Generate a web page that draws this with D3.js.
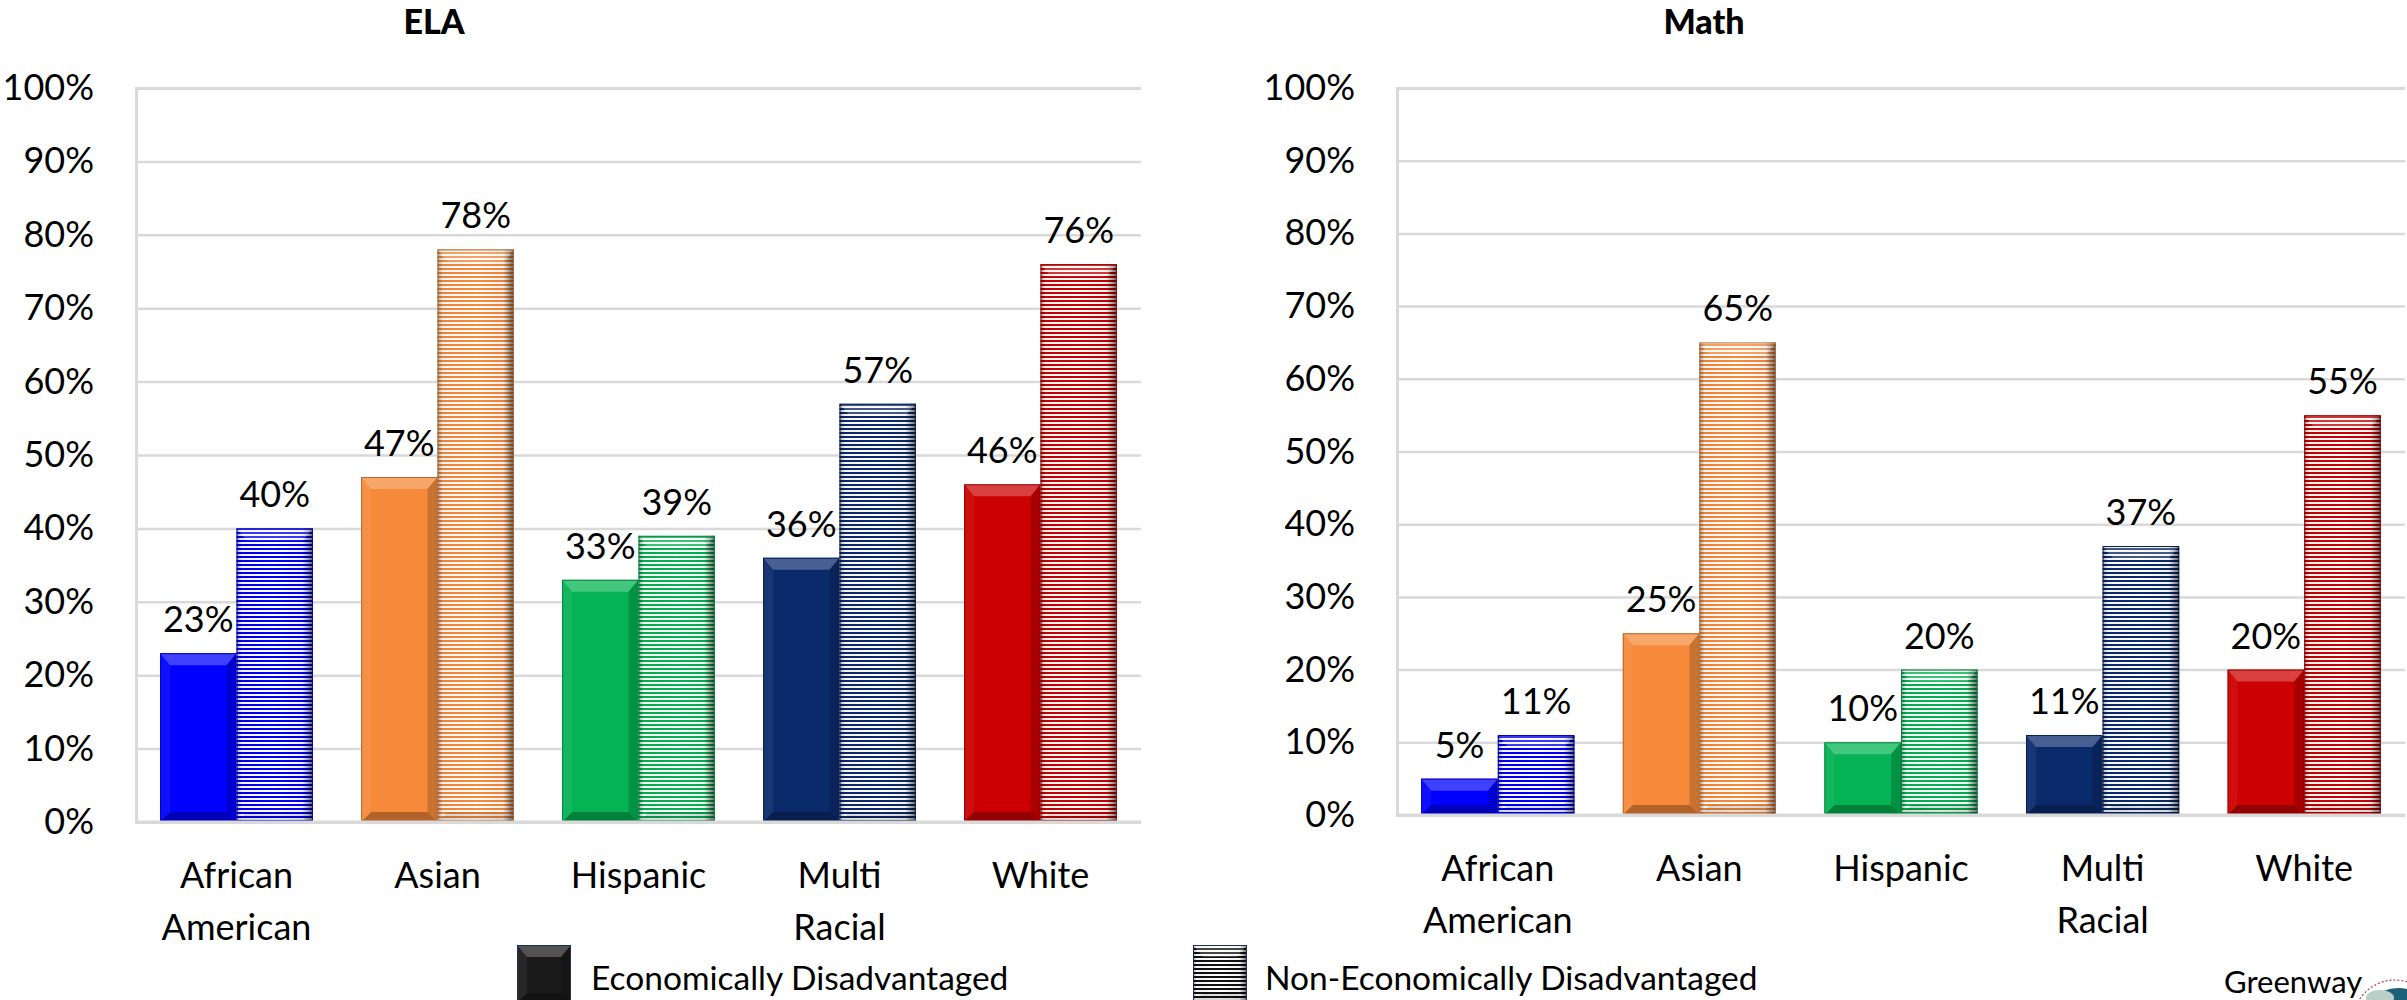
<!DOCTYPE html>
<html>
<head>
<meta charset="utf-8">
<script src="https://cdn.jsdelivr.net/npm/d3@7/dist/d3.min.js"></script>
<style>
  html, body { margin: 0; padding: 0; background: #fff; }
  svg { display: block; }
  text { font-family: Lato, "Open Sans", sans-serif; fill: #000; }
</style>
</head>
<body>
<svg id="chart" width="2407" height="1000"></svg>
<script>
// Proficiency rates by student group, ELA and Math
const categories = ["African American", "Asian", "Hispanic", "Multi Racial", "White"];
const categoryLines = [["African", "American"], ["Asian"], ["Hispanic"], ["Multi", "Racial"], ["White"]];
const seriesNames = ["Economically Disadvantaged", "Non-Economically Disadvantaged"];
const elaEcon = [23, 47, 33, 36, 46];
const elaNonEcon = [40, 78, 39, 57, 76];
const mathEcon = [5, 25, 10, 11, 20];
const mathNonEcon = [11, 65, 20, 37, 55];
const yTicks = [0, 10, 20, 30, 40, 50, 60, 70, 80, 90, 100];
const groupColors = ["#0000ff", "#f68a3a", "#04b353", "#0b2a6c", "#cc0000"];

const svg = d3.select("#chart");
const defs = svg.append("defs");

// Horizontal stripe patterns for the non-disadvantaged bars
groupColors.concat(["#111111"]).forEach((c, i) => {
  const p = defs.append("pattern")
    .attr("id", "stripe-" + i)
    .attr("patternUnits", "userSpaceOnUse")
    .attr("width", 8).attr("height", 4);
  p.append("rect").attr("width", 8).attr("height", 4).attr("fill", "#ffffff");
  p.append("rect").attr("y", 0).attr("width", 8).attr("height", 2).attr("fill", c);
});

// Edge shading for striped bars (rounded, pillar-like look)
const shade = defs.append("linearGradient").attr("id", "stripe-shade")
  .attr("x1", 0).attr("x2", 1).attr("y1", 0).attr("y2", 0);
[[0, 0.35], [0.07, 0.05], [0.5, 0], [0.86, 0.05], [1, 0.6]].forEach(([o, a]) => {
  shade.append("stop").attr("offset", o).attr("stop-color", "#000").attr("stop-opacity", a);
});

// Bevelled bar: base rect plus four facets
function bevelBar(g, x, y, w, h, fill, stroke, striped) {
  g.append("rect").attr("x", x).attr("y", y).attr("width", w).attr("height", h)
    .attr("fill", fill);
  if (striped) {
    g.append("rect").attr("x", x).attr("y", y).attr("width", w).attr("height", h)
      .attr("fill", "url(#stripe-shade)");
  }
  const b = Math.min(10, h / 2);
  const bt = Math.min(12, h / 2);
  const facets = [
    { pts: [[x, y], [x + w, y], [x + w - b, y + bt], [x + b, y + bt]], c: "#fff", o: striped ? 0.22 : 0.25 },
    { pts: [[x, y], [x + b, y + bt], [x + b, y + h - b], [x, y + h]], c: "#fff", o: striped ? 0.0 : 0.06 },
    { pts: [[x + w, y], [x + w, y + h], [x + w - b, y + h - b], [x + w - b, y + bt]], c: "#000", o: striped ? 0.0 : 0.18 },
    { pts: [[x, y + h], [x + w, y + h], [x + w - b, y + h - b], [x + b, y + h - b]], c: "#000", o: striped ? 0.12 : 0.28 }
  ];
  facets.forEach(f => {
    if (f.o > 0) g.append("polygon").attr("points", f.pts.map(p => p.join(",")).join(" "))
      .attr("fill", f.c).attr("fill-opacity", f.o);
  });
  g.append("rect").attr("x", x + 0.5).attr("y", y + 0.5).attr("width", w - 1).attr("height", h - 1)
    .attr("fill", "none").attr("stroke", stroke).attr("stroke-width", 1);
}

function drawPanel(opts) {
  const { title, titleX, left, right, top, bottom, econ, nonEcon } = opts;
  const g = svg.append("g");
  const y = d3.scaleLinear().domain([0, 100]).range([bottom, top]);
  const x = d3.scaleBand().domain(categories).range([left, right])
    .paddingInner(0.24).paddingOuter(0.12);
  const xs = d3.scaleBand().domain(seriesNames).range([0, x.bandwidth()]).padding(0);

  // Gridlines and percentage ticks
  const yAxis = d3.axisLeft(y).tickValues(yTicks)
    .tickSize(-(right - left)).tickFormat(d => d + "%").tickPadding(42);
  const ag = g.append("g").attr("transform", `translate(${left},0)`).call(yAxis);
  ag.select(".domain").attr("stroke", "#d9d9d9").attr("stroke-width", 3);
  ag.selectAll(".tick line").attr("stroke", "#d9d9d9").attr("stroke-width", 2.5);
  ag.selectAll(".tick text")
    .attr("font-family", "Lato, sans-serif").attr("font-size", 36).attr("fill", "#000");

  // Bars with value labels
  categories.forEach((cat, i) => {
    const x0 = x(cat);
    const bw = xs.bandwidth();
    const vals = [econ[i], nonEcon[i]];
    vals.forEach((v, s) => {
      const bx = x0 + xs(seriesNames[s]);
      const by = y(v);
      const bh = y(0) - y(v);
      const bg = g.append("g");
      const stroke = d3.color(groupColors[i]).darker(0.8).formatHex();
      bevelBar(bg, bx, by, bw, bh,
        s === 0 ? groupColors[i] : `url(#stripe-${i})`, stroke, s === 1);
      g.append("text")
        .attr("x", bx + bw / 2).attr("y", by - 21)
        .attr("text-anchor", "middle").attr("font-size", 36)
        .text(v + "%");
    });
    // Category label
    const t = g.append("text").attr("text-anchor", "middle").attr("font-size", 36);
    categoryLines[i].forEach((line, k) => {
      t.append("tspan").attr("x", x0 + x.bandwidth() / 2)
        .attr("y", bottom + 66 + k * 52).text(line);
    });
  });

  // Baseline
  g.append("line").attr("x1", left).attr("x2", right).attr("y1", bottom).attr("y2", bottom)
    .attr("stroke", "#d9d9d9").attr("stroke-width", 3);

  g.append("text").attr("x", titleX).attr("y", 34).attr("text-anchor", "middle")
    .attr("font-size", 34).attr("font-weight", 900).text(title);
}

drawPanel({ title: "ELA", titleX: 434, left: 136, right: 1141, top: 88, bottom: 822,
  econ: elaEcon, nonEcon: elaNonEcon });
drawPanel({ title: "Math", titleX: 1704, left: 1397, right: 2405, top: 88, bottom: 815,
  econ: mathEcon, nonEcon: mathNonEcon });

// Legend
const legend = svg.append("g");
const legendItems = [
  { name: seriesNames[0], sx: 517, tx: 591 },
  { name: seriesNames[1], sx: 1193, tx: 1265 }
];
legendItems.forEach((d, i) => {
  const lg = legend.append("g");
  if (i === 0) {
    bevelBar(lg, d.sx, 945, 54, 58, "#1a1a1a", "#1c2f5a", false);
  } else {
    bevelBar(lg, d.sx, 945, 54, 58, "url(#stripe-5)", "#1c2f5a", true);
  }
  legend.append("text").attr("x", d.tx).attr("y", 990).attr("font-size", 33.5).text(d.name);
});

// Logo mark, bottom right
const logo = svg.append("g");
logo.append("circle").attr("cx", 2395).attr("cy", 1022).attr("r", 42)
  .attr("fill", "none").attr("stroke", "#b04040").attr("stroke-width", 1.2)
  .attr("stroke-dasharray", "2,2");
logo.append("circle").attr("cx", 2398).attr("cy", 1025).attr("r", 37)
  .attr("fill", "#1d6079");
logo.append("ellipse").attr("cx", 2380).attr("cy", 998).attr("rx", 14).attr("ry", 8)
  .attr("fill", "#b9cfc8");
logo.append("text").attr("x", 2224).attr("y", 993)
  .attr("font-family", "'Liberation Serif', 'DejaVu Serif', serif")
  .attr("font-size", 31).attr("fill", "#1d5a7a").text("Greenway");
</script>
</body>
</html>
